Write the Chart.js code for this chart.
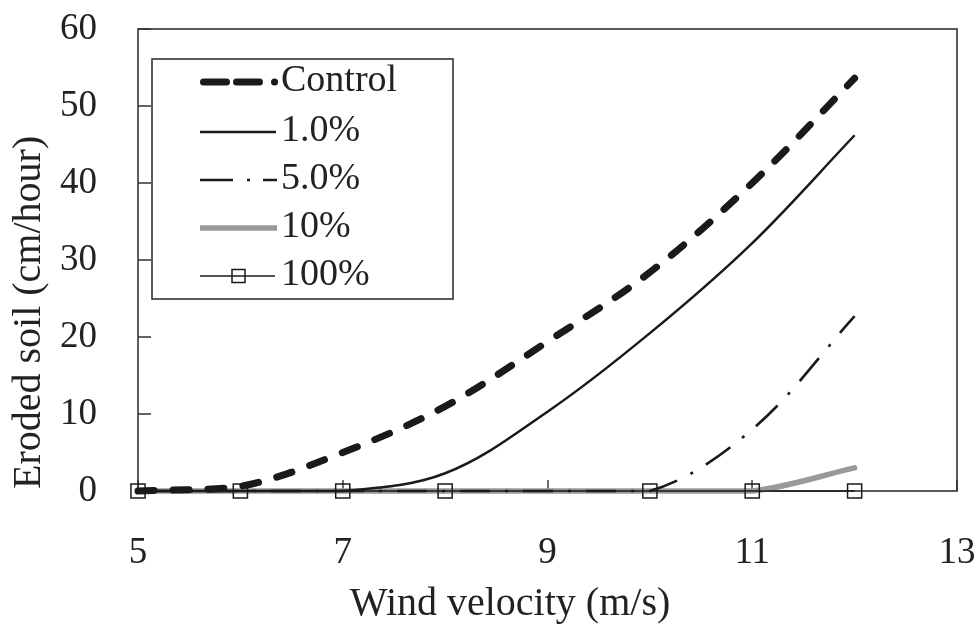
<!DOCTYPE html>
<html>
<head>
<meta charset="utf-8">
<script src="https://cdn.jsdelivr.net/npm/chart.js@4"></script>
<style>
  html, body { margin: 0; padding: 0; background: #fff; }
</style>
</head>
<body>
<canvas id="chart" width="979" height="629"></canvas>
<script>
// wind velocity (m/s)
const windSpeed = [5, 6, 7, 8, 9, 10, 11, 12];
// eroded soil (cm/hour)
const control = [0, 0.6, 5, 11, 19.4, 28.4, 40, 53.6];
const pct1 = [0, 0, 0, 2.3, 10.3, 20.5, 32.2, 46.2];
const pct5 = [0, 0, 0, 0, 0, 0, 8, 22.7];
const pct10 = [0, 0, 0, 0, 0, 0, 0, 3];
// 100% has no marker at 9
const speed100 = [5, 6, 7, 8, 10, 11, 12];
const pct100 = [0, 0, 0, 0, 0, 0, 0];

const xTicks = [5, 7, 9, 11, 13];
const yTicks = [0, 10, 20, 30, 40, 50, 60];

const serif = "'Liberation Serif', 'DejaVu Serif', serif";
const ink = "#222";

function pts(xs, ys) {
    return xs.map((x, i) => ({ x: x, y: ys[i] }));
}

// frame + inward ticks
const framePlugin = {
    id: "frame",
    beforeDatasetsDraw(chart) {
        const { ctx, chartArea: a, scales } = chart;
        ctx.save();
        ctx.strokeStyle = "#333";
        ctx.lineWidth = 1.6;
        ctx.strokeRect(a.left, a.top, a.right - a.left, a.bottom - a.top);
        ctx.lineWidth = 1.4;
        ctx.beginPath();
        yTicks.forEach(v => {
            const y = Math.round(scales.y.getPixelForValue(v));
            ctx.moveTo(a.left, y);
            ctx.lineTo(a.left + 13, y);
        });
        xTicks.forEach(v => {
            const x = Math.round(scales.x.getPixelForValue(v));
            ctx.moveTo(x, a.bottom);
            ctx.lineTo(x, a.bottom - 11);
        });
        ctx.stroke();
        ctx.restore();
    }
};

// axis titles and legend box
const textPlugin = {
    id: "texts",
    afterDraw(chart) {
        const ctx = chart.ctx;
        ctx.save();
        ctx.fillStyle = ink;
        ctx.font = "40px " + serif;
        ctx.textBaseline = "middle";
        ctx.textAlign = "center";
        ctx.fillText("Wind velocity (m/s)", 510, 604);

        ctx.save();
        ctx.translate(29, 489);
        ctx.rotate(-Math.PI / 2);
        ctx.textAlign = "left";
        ctx.fillText("Eroded soil (cm/hour)", 0, 0);
        ctx.restore();

        // legend
        ctx.fillStyle = "#fff";
        ctx.fillRect(152, 59, 301, 240);
        ctx.strokeStyle = "#333";
        ctx.lineWidth = 1.6;
        ctx.strokeRect(152, 59, 301, 240);

        const rows = [82, 132, 180, 228, 276];
        ctx.strokeStyle = "#1a1a1a";
        ctx.lineCap = "round";
        ctx.lineWidth = 7;
        ctx.beginPath();
        ctx.moveTo(203.5, rows[0]); ctx.lineTo(226.5, rows[0]);
        ctx.moveTo(236.5, rows[0]); ctx.lineTo(259.5, rows[0]);
        ctx.moveTo(274.5, rows[0]); ctx.lineTo(274.6, rows[0]);
        ctx.stroke();

        ctx.lineCap = "butt";
        ctx.lineWidth = 2.5;
        ctx.beginPath();
        ctx.moveTo(200, rows[1]); ctx.lineTo(276, rows[1]);
        ctx.moveTo(200, rows[2]); ctx.lineTo(233, rows[2]);
        ctx.moveTo(247, rows[2]); ctx.lineTo(250, rows[2]);
        ctx.moveTo(263, rows[2]); ctx.lineTo(277, rows[2]);
        ctx.stroke();

        ctx.strokeStyle = "#999";
        ctx.lineWidth = 5.5;
        ctx.beginPath();
        ctx.moveTo(200, rows[3]); ctx.lineTo(277, rows[3]);
        ctx.stroke();

        ctx.strokeStyle = "#1a1a1a";
        ctx.lineWidth = 1.5;
        ctx.beginPath();
        ctx.moveTo(200, rows[4]); ctx.lineTo(275, rows[4]);
        ctx.stroke();
        ctx.strokeRect(232, rows[4] - 6.5, 13, 13);

        ctx.fillStyle = ink;
        ctx.font = "38px " + serif;
        ctx.textAlign = "left";
        ["Control", "1.0%", "5.0%", "10%", "100%"].forEach((t, i) => {
            ctx.fillText(t, 281, rows[i] - 1);
        });
        ctx.restore();
    }
};

new Chart(document.getElementById("chart"), {
    type: "line",
    data: {
        datasets: [
            {
                label: "Control",
                data: pts(windSpeed, control),
                borderColor: "#1a1a1a",
                borderWidth: 7,
                borderDash: [16, 19],
                borderCapStyle: "round",
                pointRadius: 0,
                order: 1
            },
            {
                label: "1.0%",
                data: pts(windSpeed, pct1),
                borderColor: "#1a1a1a",
                borderWidth: 2.5,
                pointRadius: 0,
                order: 2
            },
            {
                label: "5.0%",
                data: pts(windSpeed, pct5),
                borderColor: "#1a1a1a",
                borderWidth: 2.6,
                borderDash: [30, 15, 3, 15],
                borderDashOffset: 56,
                pointRadius: 0,
                order: 3
            },
            {
                label: "10%",
                data: pts(windSpeed, pct10),
                borderColor: "#999",
                borderWidth: 5.5,
                borderCapStyle: "round",
                pointRadius: 0,
                order: 4
            },
            {
                label: "100%",
                data: pts(speed100, pct100),
                borderColor: "#1a1a1a",
                borderWidth: 1.5,
                pointStyle: "rect",
                pointRadius: 10,
                pointBorderWidth: 1.5,
                pointBorderColor: "#1a1a1a",
                pointBackgroundColor: "rgba(0,0,0,0)",
                order: 0
            }
        ]
    },
    options: {
        responsive: false,
        animation: false,
        events: [],
        clip: false,
        elements: { line: { tension: 0.35, capBezierPoints: true, fill: false } },
        layout: { padding: { top: 29, right: 22, left: 0, bottom: 0 } },
        plugins: { legend: { display: false }, tooltip: { enabled: false } },
        scales: {
            x: {
                type: "linear",
                min: 5,
                max: 13,
                afterFit: s => { s.height = 138; s.paddingLeft = 0; s.paddingRight = 0; },
                afterBuildTicks: s => { s.ticks = xTicks.map(v => ({ value: v })); },
                grid: { display: false, drawTicks: false },
                border: { display: false },
                ticks: { color: ink, font: { family: serif, size: 37 }, padding: 40, maxRotation: 0, autoSkip: false }
            },
            y: {
                min: 0,
                max: 60,
                afterFit: s => { s.width = 138; s.paddingTop = 0; s.paddingBottom = 0; },
                afterBuildTicks: s => { s.ticks = yTicks.map(v => ({ value: v })); },
                grid: { display: false, drawTicks: false },
                border: { display: false },
                ticks: { color: ink, font: { family: serif, size: 37 }, padding: 41 }
            }
        }
    },
    plugins: [framePlugin, textPlugin]
});
</script>
</body>
</html>
